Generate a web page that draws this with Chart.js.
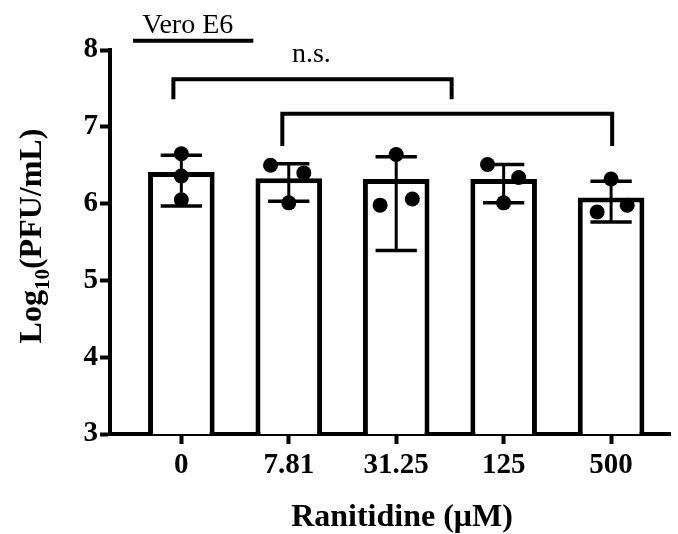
<!DOCTYPE html>
<html>
<head>
<meta charset="utf-8">
<script src="https://cdn.jsdelivr.net/npm/chart.js@4.4.1/dist/chart.umd.min.js"></script>
<style>
  html, body { margin: 0; padding: 0; background: #fff; }
  #wrap { width: 678px; height: 534px; }
</style>
</head>
<body>
<div id="wrap"><canvas id="chart" width="678" height="534"></canvas></div>
<script>
// ---------- DATA ----------
const labels = ["0", "7.81", "31.25", "125", "500"];
const barMeans = [6.41, 6.33, 6.32, 6.32, 6.08];
const errLow = [5.97, 6.03, 5.39, 6.01, 5.76];
const errHigh = [6.63, 6.52, 6.61, 6.51, 6.29];
const dotValues = [
  [6.65, 6.36, 6.05],
  [6.50, 6.40, 6.01],
  [6.64, 5.98, 6.06],
  [6.51, 6.34, 6.01],
  [6.32, 5.89, 5.98]
];
// horizontal scatter jitter, in category units
const dotJitter = [
  [0, 0, 0],
  [-0.17, 0.14, 0],
  [0, -0.15, 0.15],
  [-0.15, 0.14, 0],
  [0, -0.13, 0.15]
];
const yTicks = [3, 4, 5, 6, 7, 8];

// annotations (data units)
const cellLine = { from: -0.45, to: 0.67, y: 8.12, text: "Vero E6", textX: 0.06 };
const brackets = [
  { from: -0.074, to: 2.516, top: 7.62, foot: 7.36 },
  { from: 0.94, to: 4.01, top: 7.17, foot: 6.75 }
];
const sigLabel = { text: "n.s.", x: 1.21, y: 7.84 };

const SERIF = "'Liberation Serif', 'Times New Roman', serif";

// ---------- HELPERS ----------
const dotPoints = [];
dotValues.forEach((vals, i) => {
  vals.forEach((v, j) => dotPoints.push({ x: i + dotJitter[i][j], y: v }));
});

const errorBars = {
  id: "errorBars",
  afterDatasetsDraw(chart) {
    const { ctx, scales: { x, y } } = chart;
    const meta = chart.getDatasetMeta(0);
    ctx.save();
    ctx.strokeStyle = "#000";
    ctx.lineCap = "butt";
    barMeans.forEach((m, i) => {
      const bar = meta.data[i];
      const px = x.getPixelForValue(i);
      const half = bar.width * 0.31;
      const yl = y.getPixelForValue(errLow[i]);
      const yh = y.getPixelForValue(errHigh[i]);
      ctx.lineWidth = 3;
      ctx.beginPath();
      ctx.moveTo(px, yl); ctx.lineTo(px, yh);
      ctx.stroke();
      ctx.lineWidth = 3.5;
      ctx.beginPath();
      ctx.moveTo(px - half, yh); ctx.lineTo(px + half, yh);
      ctx.moveTo(px - half, yl); ctx.lineTo(px + half, yl);
      ctx.stroke();
    });
    ctx.restore();
  }
};

const annotations = {
  id: "annotations",
  afterDraw(chart) {
    const { ctx, scales: { x, y } } = chart;
    ctx.save();
    ctx.strokeStyle = "#000";
    ctx.fillStyle = "#000";
    ctx.lineJoin = "miter";

    // cell line label
    ctx.lineWidth = 4;
    ctx.beginPath();
    ctx.moveTo(x.getPixelForValue(cellLine.from), y.getPixelForValue(cellLine.y));
    ctx.lineTo(x.getPixelForValue(cellLine.to), y.getPixelForValue(cellLine.y));
    ctx.stroke();
    ctx.font = "28px " + SERIF;
    ctx.textAlign = "center";
    ctx.textBaseline = "alphabetic";
    ctx.fillText(cellLine.text, x.getPixelForValue(cellLine.textX), y.getPixelForValue(cellLine.y) - 8);

    // brackets
    brackets.forEach(b => {
      const x1 = x.getPixelForValue(b.from), x2 = x.getPixelForValue(b.to);
      const yt = y.getPixelForValue(b.top), yf = y.getPixelForValue(b.foot);
      ctx.lineWidth = 4;
      ctx.beginPath();
      ctx.moveTo(x1, yf); ctx.lineTo(x1, yt); ctx.lineTo(x2, yt); ctx.lineTo(x2, yf);
      ctx.stroke();
    });
    ctx.fillText(sigLabel.text, x.getPixelForValue(sigLabel.x), y.getPixelForValue(sigLabel.y));

    // x title
    ctx.font = "bold 32px " + SERIF;
    ctx.fillText("Ranitidine (\u03bcM)", 402, 526);

    // y title with subscript
    const big = "bold 32px " + SERIF, small = "bold 21px " + SERIF;
    ctx.font = big;
    const w1 = ctx.measureText("Log").width;
    const w3 = ctx.measureText("(PFU/mL)").width;
    ctx.font = small;
    const w2 = ctx.measureText("10").width;
    const total = w1 + w2 + w3;
    ctx.translate(41, 236);
    ctx.rotate(-Math.PI / 2);
    ctx.textAlign = "left";
    let cx = -total / 2;
    ctx.font = big; ctx.fillText("Log", cx, 0); cx += w1;
    ctx.font = small; ctx.fillText("10", cx, 8); cx += w2;
    ctx.font = big; ctx.fillText("(PFU/mL)", cx, 0);
    ctx.restore();
  }
};

// ---------- CHART ----------
const axisBorder = { display: true, color: "#000", width: 4 };

new Chart(document.getElementById("chart"), {
  type: "bar",
  data: {
    datasets: [
      {
        type: "bar",
        data: barMeans.map((v, i) => ({ x: i, y: v })),
        backgroundColor: "#fff",
        borderColor: "#000",
        borderWidth: 5,
        categoryPercentage: 1,
        barPercentage: 0.62,
        order: 1
      },
      {
        type: "scatter",
        data: dotPoints,
        backgroundColor: "#000",
        borderWidth: 0,
        pointRadius: 7.5,
        order: 0
      }
    ]
  },
  options: {
    responsive: false,
    animation: false,
    events: [],
    layout: { padding: { top: 50, left: 0, right: 0, bottom: 0 } },
    plugins: { legend: { display: false }, tooltip: { enabled: false } },
    scales: {
      x: {
        type: "linear",
        offset: false,
        min: -0.664,
        max: 4.553,
        afterBuildTicks: s => { s.ticks = labels.map((_, i) => ({ value: i })); },
        afterFit: s => { s.height = 100; },
        ticks: {
          callback: v => labels[v] ?? "",
          font: { family: SERIF, size: 29, weight: "bold" },
          color: "#000",
          padding: 4,
          maxRotation: 0,
          autoSkip: false
        },
        grid: { offset: false, drawOnChartArea: false, drawTicks: true, tickLength: 10, tickWidth: 4, color: "#000" },
        border: axisBorder
      },
      y: {
        min: 3,
        max: 8,
        afterBuildTicks: s => { s.ticks = yTicks.map(v => ({ value: v })); },
        afterFit: s => { s.width = 110; },
        ticks: {
          font: { family: SERIF, size: 29, weight: "bold" },
          color: "#000",
          padding: 2
        },
        grid: { drawOnChartArea: false, drawTicks: true, tickLength: 10, tickWidth: 4, color: "#000" },
        border: axisBorder
      }
    }
  },
  plugins: [errorBars, annotations]
});
</script>
</body>
</html>
